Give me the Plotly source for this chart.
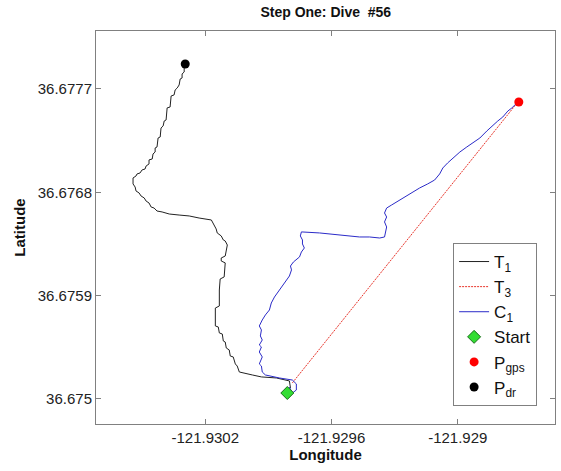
import plotly.graph_objects as go

# T1 track (dead reckoning), start -> P_dr
t1_lon = [-121.929795, -121.929800, -121.929862, -121.929933, -121.929976, -121.930038,
          -121.930048, -121.930057, -121.930067, -121.930081, -121.930086, -121.930100,
          -121.930105, -121.930114, -121.930119, -121.930133, -121.930138, -121.930152,
          -121.930152, -121.930133, -121.930133, -121.930129, -121.930110, -121.930105,
          -121.930124, -121.930124, -121.930105, -121.930095, -121.930105, -121.930114,
          -121.930124, -121.930143, -121.930148, -121.930162, -121.930171, -121.930229,
          -121.930276, -121.930324, -121.930371, -121.930405, -121.930429, -121.930443,
          -121.930457, -121.930467, -121.930481, -121.930490, -121.930505, -121.930514,
          -121.930529, -121.930533, -121.930543, -121.930543, -121.930529, -121.930524,
          -121.930510, -121.930500, -121.930486, -121.930481, -121.930467, -121.930467,
          -121.930452, -121.930448, -121.930438, -121.930438, -121.930429, -121.930424,
          -121.930414, -121.930410, -121.930400, -121.930395, -121.930386, -121.930381,
          -121.930367, -121.930362, -121.930348, -121.930343, -121.930333, -121.930324,
          -121.930319, -121.930310, -121.930310, -121.930300, -121.930300, -121.930295]
t1_lat = [36.675096, 36.675157, 36.675183, 36.675192, 36.675209, 36.675235,
          36.675287, 36.675305, 36.675366, 36.675374, 36.675427, 36.675444,
          36.675496, 36.675505, 36.675566, 36.675575, 36.675627, 36.675636,
          36.675792, 36.675810, 36.675949, 36.676045, 36.676063, 36.676185,
          36.676202, 36.676228, 36.676245, 36.676341, 36.676376, 36.676385,
          36.676420, 36.676446, 36.676481, 36.676524, 36.676559, 36.676576,
          36.676594, 36.676602, 36.676611, 36.676629, 36.676637, 36.676663,
          36.676672, 36.676707, 36.676724, 36.676751, 36.676768, 36.676794,
          36.676812, 36.676846, 36.676873, 36.676925, 36.676942, 36.676960,
          36.676968, 36.676995, 36.677003, 36.677029, 36.677047, 36.677082,
          36.677090, 36.677134, 36.677151, 36.677186, 36.677195, 36.677273,
          36.677282, 36.677360, 36.677378, 36.677421, 36.677430, 36.677535,
          36.677543, 36.677639, 36.677648, 36.677691, 36.677709, 36.677735,
          36.677787, 36.677796, 36.677831, 36.677848, 36.677892, 36.677918]

# T3 straight track, start -> P_gps
t3_lon = [-121.929786, -121.928714]
t3_lat = [36.675140, 36.677587]

# C1 corrected track, start -> P_gps
c1_lon = [-121.929800, -121.929786, -121.929767, -121.929767, -121.929786, -121.929848,
          -121.929914, -121.929929, -121.929933, -121.929943, -121.929929, -121.929943,
          -121.929933, -121.929943, -121.929929, -121.929938, -121.929933, -121.929943,
          -121.929929, -121.929914, -121.929895, -121.929886, -121.929871, -121.929848,
          -121.929833, -121.929814, -121.929800, -121.929790, -121.929795, -121.929781,
          -121.929752, -121.929743, -121.929729, -121.929738, -121.929738, -121.929748,
          -121.929743, -121.929657, -121.929562, -121.929467, -121.929419, -121.929371,
          -121.929348, -121.929343, -121.929338, -121.929348, -121.929338, -121.929348,
          -121.929338, -121.929314, -121.929276, -121.929229, -121.929181, -121.929143,
          -121.929110, -121.929086, -121.929071, -121.929048, -121.929024, -121.928990,
          -121.928957, -121.928929, -121.928895, -121.928862, -121.928833, -121.928810,
          -121.928786, -121.928762, -121.928743, -121.928724, -121.928714]
c1_lat = [36.675104, 36.675052, 36.675078, 36.675131, 36.675165, 36.675183,
          36.675209, 36.675235, 36.675287, 36.675305, 36.675366, 36.675409,
          36.675453, 36.675470, 36.675514, 36.675549, 36.675601, 36.675636,
          36.675688, 36.675732, 36.675775, 36.675836, 36.675888, 36.675949,
          36.675993, 36.676036, 36.676071, 36.676124, 36.676158, 36.676193,
          36.676237, 36.676280, 36.676315, 36.676350, 36.676385, 36.676420,
          36.676455, 36.676446, 36.676428, 36.676411, 36.676411, 36.676402,
          36.676411, 36.676455, 36.676498, 36.676542, 36.676585, 36.676620,
          36.676663, 36.676690, 36.676733, 36.676785, 36.676838, 36.676873,
          36.676907, 36.676960, 36.677012, 36.677056, 36.677099, 36.677151,
          36.677195, 36.677230, 36.677273, 36.677334, 36.677386, 36.677421,
          36.677456, 36.677508, 36.677535, 36.677569, 36.677587]

start_pt = (-121.929810, 36.675052)
gps_pt = (-121.928710, 36.677587)
dr_pt = (-121.930295, 36.677918)

x_ticks = [-121.9302, -121.9296, -121.929]
x_ticklabels = ["-121.9302", "-121.9296", "-121.929"]
y_ticks = [36.675, 36.6759, 36.6768, 36.6777]
y_ticklabels = ["36.675", "36.6759", "36.6768", "36.6777"]

fig = go.Figure()

fig.add_trace(go.Scatter(x=t1_lon, y=t1_lat, mode="lines", name="T<sub>1</sub>",
                         line=dict(color="#222222", width=1)))
fig.add_trace(go.Scatter(x=t3_lon, y=t3_lat, mode="lines", name="T<sub>3</sub>",
                         line=dict(color="#e8352b", width=1, dash="2px,1px")))
fig.add_trace(go.Scatter(x=c1_lon, y=c1_lat, mode="lines", name="C<sub>1</sub>",
                         line=dict(color="#2b2bc8", width=1)))
fig.add_trace(go.Scatter(x=[start_pt[0]], y=[start_pt[1]], mode="markers", name="Start",
                         marker=dict(symbol="diamond", size=10, color="#33dd33",
                                     line=dict(color="#1a6e1a", width=1))))
fig.add_trace(go.Scatter(x=[gps_pt[0]], y=[gps_pt[1]], mode="markers", name="P<sub>gps</sub>",
                         marker=dict(symbol="circle", size=9, color="#ff0000")))
fig.add_trace(go.Scatter(x=[dr_pt[0]], y=[dr_pt[1]], mode="markers", name="P<sub>dr</sub>",
                         marker=dict(symbol="circle", size=9, color="#000000")))

axis_common = dict(
    showgrid=False, zeroline=False, showline=True, linecolor="#808080", linewidth=1,
    mirror="ticks", ticks="inside", ticklen=5, tickcolor="#808080", automargin=False,
    tickfont=dict(family="Liberation Sans, Arial", size=15, color="#222222"),
)

fig.update_layout(
    width=561, height=471,
    margin=dict(l=96, r=6, t=31, b=47),
    paper_bgcolor="white", plot_bgcolor="white",
    title=dict(text="<b>Step One: Dive  #56</b>", x=0.5807, xanchor="center", y=0.974,
               yanchor="middle", font=dict(family="Liberation Sans, Arial", size=14, color="#111111")),
    xaxis=dict(axis_common, range=[-121.930719, -121.928538], tickvals=x_ticks, ticktext=x_ticklabels,
               title=dict(text="<b>Longitude</b>", standoff=4,
                          font=dict(family="Liberation Sans, Arial", size=15, color="#111111"))),
    yaxis=dict(axis_common, range=[36.674782, 36.678205], tickvals=y_ticks, ticktext=y_ticklabels,
               title=dict(text="<b>Latitude</b>", standoff=8,
                          font=dict(family="Liberation Sans, Arial", size=15, color="#111111"))),
    showlegend=True,
    legend=dict(x=0.778, y=0.4606, xanchor="left", yanchor="top", bgcolor="white",
                bordercolor="#808080", borderwidth=1, tracegroupgap=0, entrywidth=48,
                font=dict(family="Liberation Sans, Arial", size=17, color="#111111")),
)

fig.write_html("out.html", config={"displayModeBar": False},
               post_script="document.body.style.margin='0px';document.body.style.overflow='hidden';")
